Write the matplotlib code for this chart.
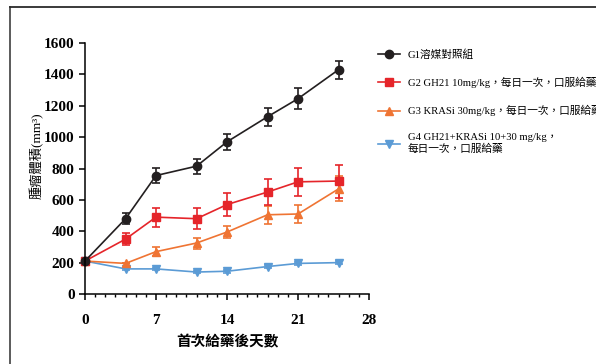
import matplotlib
matplotlib.use("Agg")
import matplotlib.pyplot as plt
from matplotlib.lines import Line2D
from matplotlib.ticker import MultipleLocator

plt.rcParams['font.family'] = ['Liberation Serif', 'Noto Sans CJK TC']

# days after first dose
days = [0, 4, 7, 11, 14, 18, 21, 25]

# tumour volume (mm3), mean and error
g1_mean = [210, 480, 755, 815, 970, 1130, 1245, 1430]
g1_err = [0, 35, 50, 48, 50, 58, 68, 58]
g2_mean = [210, 350, 490, 480, 570, 650, 715, 720]
g2_err = [0, 40, 60, 68, 72, 85, 88, 105]
g3_mean = [210, 195, 270, 325, 395, 505, 510, 670]
g3_err = [0, 0, 30, 35, 37, 58, 60, 80]
g4_mean = [210, 160, 160, 140, 145, 175, 195, 200]
g4_err = [0, 8, 8, 8, 8, 8, 8, 8]

labels = [
    "G1溶媒對照組",
    "G2 GH21 10mg/kg，每日一次，口服給藥",
    "G3 KRASi 30mg/kg，每日一次，口服給藥",
    "G4 GH21+KRASi 10+30 mg/kg，\n每日一次，口服給藥",
]
yticks = [0, 200, 400, 600, 800, 1000, 1200, 1400, 1600]
xticks = [0, 7, 14, 21, 28]

W, H = 596, 364
fig = plt.figure(figsize=(W / 100, H / 100), dpi=100)
ax = fig.add_axes([85 / W, 1 - 294 / H, (369 - 85) / W, (294 - 43) / H])

series = [
    (g4_mean, g4_err, '#5b9bd5', 'v'),
    (g3_mean, g3_err, '#ef7433', '^'),
    (g2_mean, g2_err, '#e5252a', 's'),
    (g1_mean, g1_err, '#231f20', 'o'),
]
handles = []
for mean, err, color, marker in series:
    eb = ax.errorbar(days, mean, yerr=err, color=color, marker=marker,
                     markersize=6, lw=1.2, elinewidth=1.2, capsize=3,
                     capthick=1.2, clip_on=False)
    for art in eb.lines[1] + eb.lines[2]:
        art.set_clip_on(False)
    handles.append(eb.lines[0])
handles = handles[::-1]

ax.set_xlim(0, 28)
ax.set_ylim(0, 1600)
ax.set_xticks(xticks)
ax.set_yticks(yticks)
ax.xaxis.set_minor_locator(MultipleLocator(1))
ax.spines['top'].set_visible(False)
ax.spines['right'].set_visible(False)
for s in ('left', 'bottom'):
    ax.spines[s].set_linewidth(1.1)
ax.tick_params(axis='both', which='major', length=4.5, width=1.1, labelsize=11)
ax.tick_params(axis='y', which='major', pad=3)
ax.tick_params(axis='x', which='major', pad=10)
ax.tick_params(axis='x', which='minor', length=2.5, width=1.0)
for lab in ax.get_xticklabels() + ax.get_yticklabels():
    lab.set_fontweight('bold')

ax.set_xlabel("首次給藥後天數", fontsize=10.5, fontweight='bold', labelpad=6)
ax.set_ylabel("腫瘤體積(mm³)", fontsize=9.5)
ax.yaxis.set_label_coords(-0.145, 0.55)

ax.legend(handles, labels, loc='upper left', frameon=False, fontsize=7.7,
          bbox_to_anchor=(378 / W, 1 - 49 / H), bbox_transform=fig.transFigure,
          borderpad=0, borderaxespad=0, handlelength=2.1, handletextpad=0.7,
          labelspacing=1.6)

# page border on the left and top
fig.add_artist(Line2D([10 / W, 10 / W], [0, 1 - 7 / H], color='#4d4d4d', lw=1.3))
fig.add_artist(Line2D([10 / W, 1], [1 - 7 / H, 1 - 7 / H], color='#2b2b2b', lw=1.3))

fig.savefig("out.png", dpi=100)
